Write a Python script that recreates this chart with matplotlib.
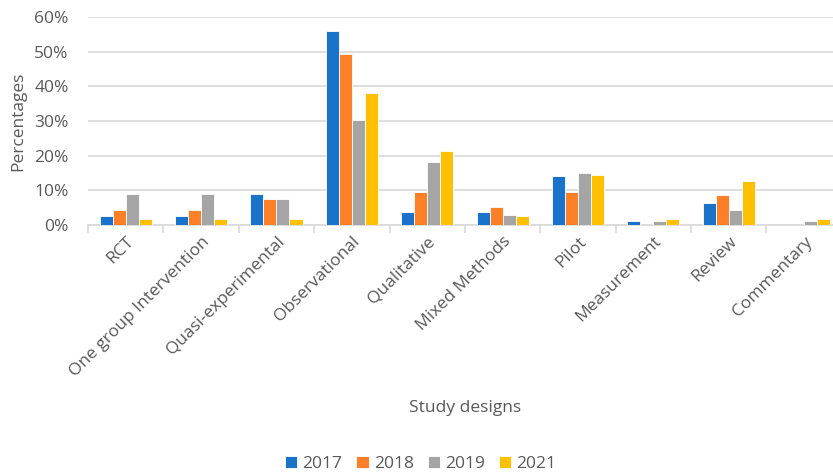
import numpy as np
import matplotlib.pyplot as plt
from matplotlib.ticker import PercentFormatter, FixedLocator

plt.rcParams['font.family'] = ['Open Sans', 'DejaVu Sans']

# study designs and percentages per year
designs = ['RCT', 'One group Intervention', 'Quasi-experimental', 'Observational',
           'Qualitative', 'Mixed Methods', 'Pilot', 'Measurement', 'Review', 'Commentary']
years = ['2017', '2018', '2019', '2021']
p2017 = [2.5, 2.5, 9.0, 55.9, 3.8, 3.8, 14.2, 1.2, 6.4, 0.0]
p2018 = [4.3, 4.3, 7.6, 49.5, 9.7, 5.3, 9.7, 0.0, 8.7, 0.0]
p2019 = [9.0, 9.0, 7.4, 30.2, 18.1, 2.9, 15.0, 1.3, 4.4, 1.3]
p2021 = [1.7, 1.7, 1.7, 38.2, 21.4, 2.7, 14.6, 1.7, 12.6, 1.7]
colors = ['#1A73CB', '#FD7F27', '#A5A5A5', '#FFC000']

fig = plt.figure(figsize=(8.33, 4.76), dpi=100)
ax = fig.add_axes([0.1056, 0.527, 0.905, 0.437])

x = np.arange(len(designs))
w = 0.173
for i, vals in enumerate([p2017, p2018, p2019, p2021]):
    ax.bar(x + (i - 1.5) * w, np.array(vals) / 100, w, color=colors[i],
           edgecolor='white', linewidth=0.6, label=years[i], zorder=3)

ax.set_xlim(-0.5, len(designs) - 0.5)
ax.set_ylim(0, 0.6)
ax.set_yticks(np.arange(0, 0.61, 0.1))
ax.yaxis.set_major_formatter(PercentFormatter(1.0, decimals=0))
ax.grid(axis='y', color='#D9D9D9', linewidth=1.2, zorder=0)
for s in ['top', 'right', 'left']:
    ax.spines[s].set_visible(False)
ax.spines['bottom'].set_color('#D9D9D9')
ax.spines['bottom'].set_linewidth(1.2)

ax.set_xticks(x)
ax.set_xticklabels(designs, rotation=45, ha='right', va='top', rotation_mode='anchor',
                   fontsize=12.5, color='#595959')
ax.tick_params(axis='x', which='major', length=0, pad=6)
ax.xaxis.set_minor_locator(FixedLocator(np.arange(-0.5, len(designs), 1.0)))
ax.tick_params(axis='x', which='minor', length=6, color='#D9D9D9', width=1.2)
ax.tick_params(axis='y', length=0, labelsize=12.5, labelcolor='#595959', pad=14)

ax.set_ylabel('Percentages', fontsize=12.5, color='#595959', labelpad=6)
fig.text(0.558, 0.142, 'Study designs', ha='center', va='center', fontsize=12.5, color='#595959')

fig.legend(loc='center', bbox_to_anchor=(0.505, 0.026), ncol=4, frameon=False,
           fontsize=12.5, labelcolor='#595959', handlelength=0.7, handleheight=0.7,
           handletextpad=0.3, columnspacing=0.8)

fig.savefig('out.png', dpi=100)
